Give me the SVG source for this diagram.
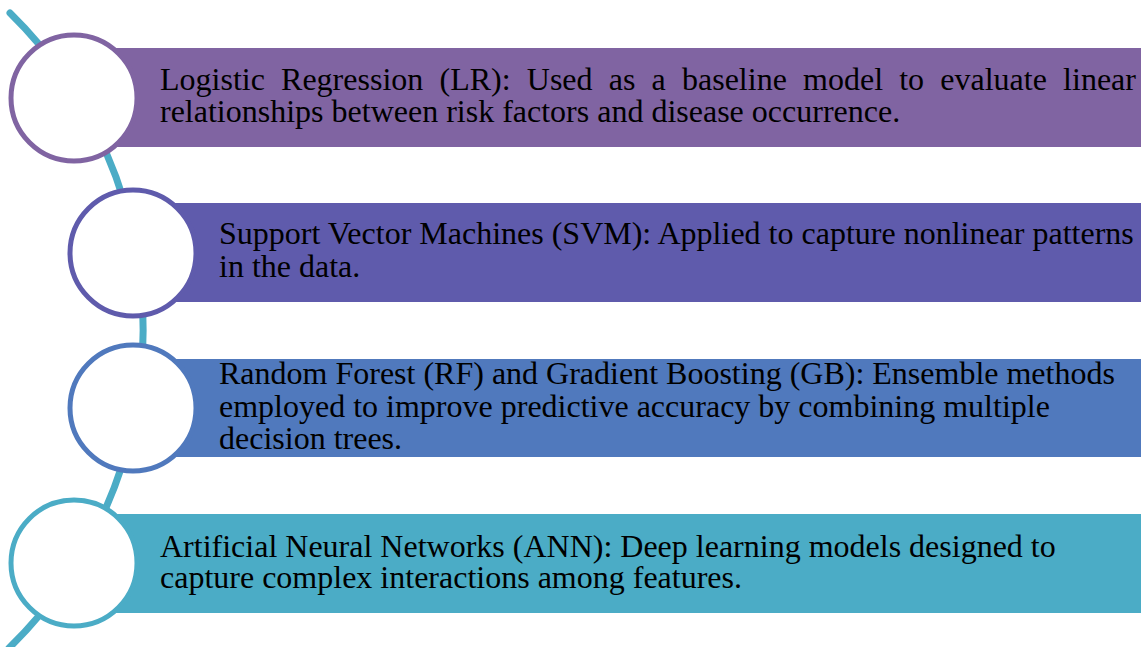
<svg xmlns="http://www.w3.org/2000/svg" width="1141" height="647" viewBox="0 0 1141 647">
<style>
.t{font-family:"Liberation Serif","Times New Roman",serif;font-size:32px;fill:#000}
.c{fill:#fff;stroke-width:5}
</style>
<rect width="1141" height="647" fill="#fff"/>
<g id="connectors">
<path d="M 10 13 A 444 444 0 0 1 9 648" fill="none" stroke="#4BACC6" stroke-width="7" stroke-linecap="round"/>
</g>
<g id="node1">
<rect x="74" y="48" width="1067" height="99" fill="#8064A2"/>
<circle class="c" cx="74" cy="98" r="63" stroke="#8064A2"/>
<text class="t" x="160" y="90" word-spacing="8.2">Logistic Regression (LR): Used as a baseline model to evaluate linear</text>
<text class="t" x="160" y="122">relationships between risk factors and disease occurrence.</text>
</g>
<g id="node2">
<rect x="133" y="203" width="1008" height="99" fill="#5F5BAC"/>
<circle class="c" cx="133" cy="253" r="63" stroke="#5F5BAC"/>
<text class="t" x="219" y="244">Support Vector Machines (SVM): Applied to capture nonlinear patterns</text>
<text class="t" x="219" y="277">in the data.</text>
</g>
<g id="node3">
<rect x="133" y="359" width="1008" height="98" fill="#5079BD"/>
<circle class="c" cx="133" cy="408" r="63" stroke="#5079BD"/>
<text class="t" x="219" y="384">Random Forest (RF) and Gradient Boosting (GB): Ensemble methods</text>
<text class="t" x="219" y="417">employed to improve predictive accuracy by combining multiple</text>
<text class="t" x="219" y="449">decision trees.</text>
</g>
<g id="node4">
<rect x="74" y="514" width="1067" height="99" fill="#4BACC6"/>
<circle class="c" cx="74" cy="563" r="63" stroke="#4BACC6"/>
<text class="t" x="160" y="557">Artificial Neural Networks (ANN): Deep learning models designed to</text>
<text class="t" x="160" y="588">capture complex interactions among features.</text>
</g>
</svg>
